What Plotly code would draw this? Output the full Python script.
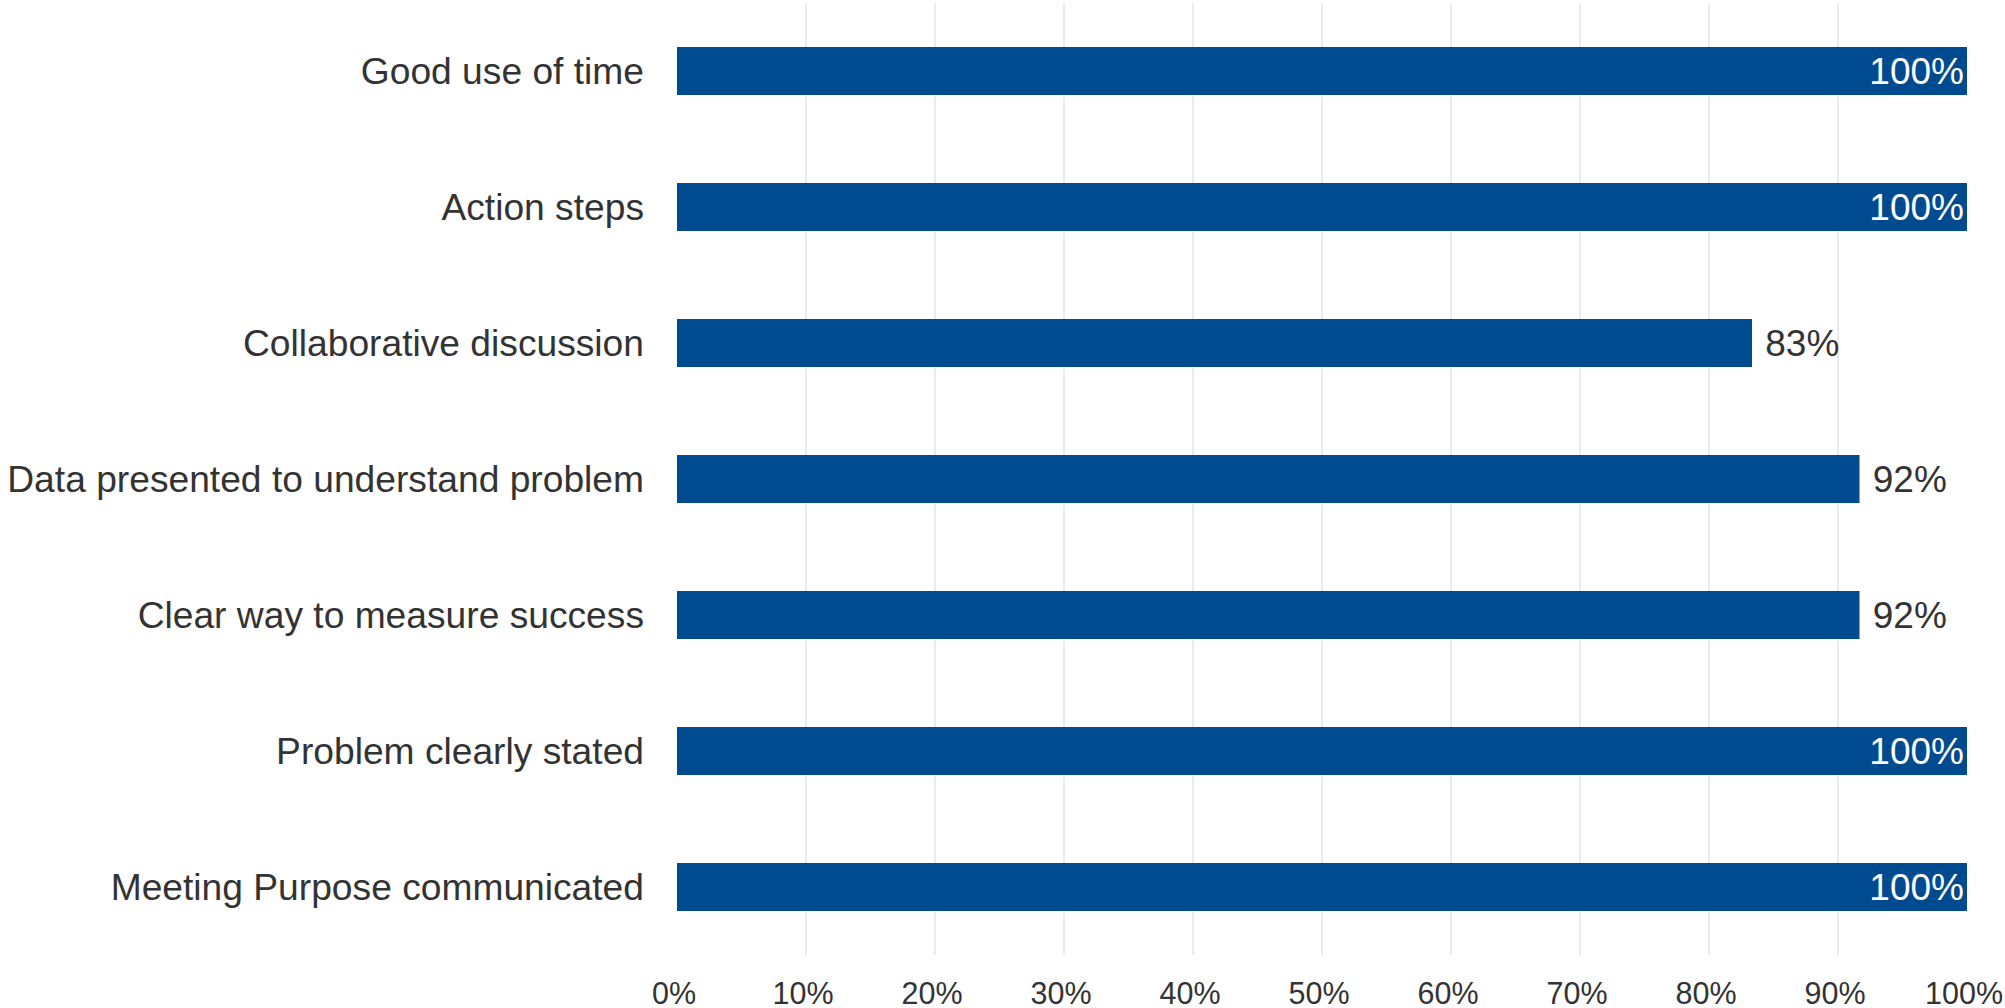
import plotly.graph_objects as go

categories = [
    "Meeting Purpose communicated",
    "Problem clearly stated",
    "Clear way to measure success",
    "Data presented to understand problem",
    "Collaborative discussion",
    "Action steps",
    "Good use of time",
]
values = [1.0, 1.0, 11/12, 11/12, 10/12, 1.0, 1.0]
label_pos = ["inside" if v >= 0.999 else "outside" for v in values]
labels = [
    (f"{round(v * 100)}%" if v >= 0.999 else f"\u00a0{round(v * 100)}%")
    for v in values
]

tick_vals = [i / 10 for i in range(11)]
tick_text = [f"{i * 10}%" for i in range(11)]

BAR = "#004A8F"
TXT = "#333333"
FONT = "Liberation Sans, Arial, sans-serif"

fig = go.Figure(
    go.Bar(
        y=categories,
        x=values,
        orientation="h",
        marker=dict(color=BAR, line=dict(width=0)),
        text=labels,
        textposition=label_pos,
        insidetextanchor="end",
        insidetextfont=dict(color="white", size=37, family=FONT),
        outsidetextfont=dict(color=TXT, size=37, family=FONT),
        cliponaxis=False,
        hoverinfo="skip",
    )
)

fig.update_layout(
    width=2005,
    height=1008,
    margin=dict(l=677, r=38, t=3, b=53),
    paper_bgcolor="white",
    plot_bgcolor="white",
    bargap=0.647,
    showlegend=False,
    font=dict(family=FONT, color=TXT),
)
fig.update_xaxes(
    range=[0, 1],
    tickvals=tick_vals,
    ticktext=tick_text,
    showgrid=True,
    gridcolor="#EBEBEB",
    gridwidth=2,
    zeroline=False,
    showline=False,
    ticks="",
    tickfont=dict(size=30.5, color=TXT, family=FONT),
    ticklabelstandoff=17,
    ticklabelshift=-3,
    ticklabeloverflow="allow",
    automargin=False,
)
fig.update_yaxes(
    categoryorder="array",
    categoryarray=categories,
    showgrid=False,
    zeroline=False,
    showline=False,
    ticks="",
    tickfont=dict(size=37.2, color=TXT, family=FONT),
    ticklabelstandoff=32,
    automargin=False,
)

fig.write_html("out.html")
